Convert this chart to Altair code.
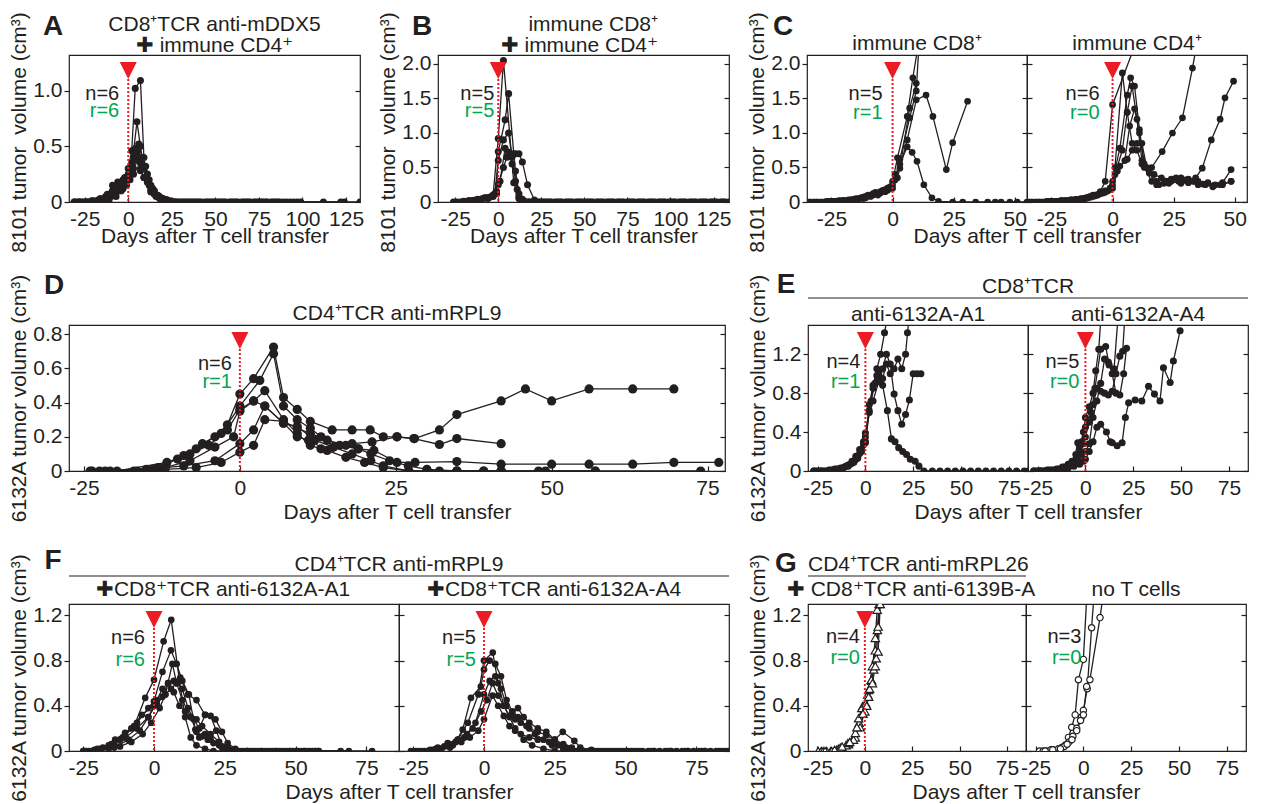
import altair as alt
import pandas as pd

FONT = "Liberation Sans"
INK = "#231f20"
RED = "#ed1c24"
GREEN = "#00a651"

# ---------------- Panel A : 8101, CD8+TCR anti-mDDX5 + immune CD4+ ----------------
A_m1 = [(-31,0),(-28,0),(-24,0),(-20,0.01),(-16,0.03),(-12,0.06),(-8,0.1),(-5,0.15),(-2,0.22),(0,0.3),(2,0.46),(4,1.02),(7,1.09),(9,0.4),(11,0.18),(13,0.09),(16,0.05),(19,0.02),(23,0),(27,0),(33,0),(40,0),(47,0),(53,0),(60,0),(67,0),(74,0),(80,0),(87,0),(93,0),(112,0),(124,0),(133,0)]
A_m2 = [(-30,0),(-26,0),(-21,0.01),(-17,0.02),(-13,0.05),(-9,0.1),(-5,0.17),(-2,0.2),(1,0.28),(3,0.45),(5,0.72),(7,0.5),(9,0.3),(11,0.2),(13,0.12),(15,0.07),(18,0.03),(21,0.01),(25,0),(30,0),(36,0),(42,0),(49,0),(56,0),(63,0),(70,0),(77,0),(84,0),(97,0)]
A_m3 = [(-29,0),(-25,0),(-19,0),(-15,0.02),(-11,0.04),(-7,0.08),(-3,0.12),(0,0.2),(2,0.35),(4,0.48),(6,0.52),(8,0.4),(10,0.32),(12,0.2),(14,0.12),(17,0.06),(20,0.03),(24,0.01),(28,0),(34,0),(38,0),(45,0),(51,0),(58,0),(65,0),(72,0),(79,0),(86,0),(99,0)]
A_m4 = [(-27,0),(-22,0),(-18,0.01),(-14,0.02),(-10,0.05),(-6,0.1),(-3,0.16),(0,0.25),(3,0.4),(5,0.45),(7,0.35),(9,0.3),(11,0.25),(13,0.15),(15,0.1),(18,0.05),(22,0.02),(26,0),(31,0),(37,0),(44,0),(50,0),(55,0),(62,0),(68,0),(75,0),(82,0),(89,0)]
A_m5 = [(-31,0),(-23,0),(-16,0.02),(-12,0.07),(-9,0.15),(-6,0.18),(-3,0.2),(0,0.22),(3,0.25),(5,0.38),(7,0.28),(9,0.22),(11,0.18),(13,0.1),(16,0.06),(19,0.03),(23,0.01),(27,0),(32,0),(39,0),(46,0),(52,0),(59,0),(66,0),(73,0),(78,0),(85,0),(95,0)]
A_m6 = [(-28,0),(-24,0),(-20,0),(-15,0.01),(-11,0.02),(-7,0.05),(-4,0.1),(-1,0.15),(1,0.2),(3,0.3),(5,0.42),(7,0.3),(9,0.22),(12,0.15),(15,0.08),(18,0.04),(22,0.02),(26,0),(29,0),(35,0),(41,0),(48,0),(54,0),(61,0),(69,0),(76,0),(83,0),(91,0),(122,0)]

# ---------------- Panel B : 8101, immune CD8+ + immune CD4+ ----------------
B_m1 = [(-26,0),(-20,0.01),(-15,0.02),(-10,0.04),(-6,0.06),(-3,0.1),(0,0.92),(3,2.05),(9,0.28),(12,0.05),(15,0.01),(18,0),(22,0),(27,0),(33,0),(39,0),(45,0),(51,0),(57,0),(63,0),(69,0),(75,0),(81,0),(87,0),(93,0),(99,0),(105,0),(111,0),(117,0),(123,0),(129,0),(134,0)]
B_m2 = [(-22,0),(-17,0.02),(-12,0.04),(-8,0.06),(-4,0.08),(-1,0.15),(0,0.73),(4,1.19),(6,1.57),(9,0.7),(11,0.18),(13,0.04),(16,0),(20,0),(25,0),(30,0),(36,0),(42,0),(48,0),(54,0),(60,0),(66,0),(72,0),(78,0),(84,0),(90,0),(96,0),(102,0),(108,0),(114,0),(120,0),(126,0),(132,0)]
B_m3 = [(-19,0),(-14,0.02),(-9,0.05),(-5,0.07),(-2,0.12),(0,0.6),(3,0.9),(6,1.0),(8,0.65),(10,0.3),(12,0.08),(14,0.02),(17,0),(21,0),(26,0),(31,0),(37,0),(43,0),(49,0),(55,0),(61,0),(67,0),(73,0),(79,0),(85,0),(91,0),(97,0),(103,0),(109,0),(115,0),(121,0),(127,0)]
B_m4 = [(-24,0),(-18,0.01),(-13,0.03),(-7,0.06),(-3,0.08),(0,0.25),(3,0.5),(5,0.65),(8,0.68),(10,0.7),(12,0.7),(14,0.58),(17,0.25),(21,0.03),(24,0),(28,0),(34,0),(40,0),(46,0),(52,0),(58,0),(64,0),(70,0),(76,0),(82,0),(88,0),(94,0),(100,0),(106,0),(112,0),(118,0),(124,0),(130,0)]
B_m5 = [(-21,0),(-16,0.01),(-11,0.03),(-6,0.05),(-1,0.12),(1,0.3),(4,0.78),(6,0.72),(8,0.55),(10,0.45),(12,0.12),(14,0.04),(18,0),(23,0),(29,0),(35,0),(41,0),(47,0),(53,0),(59,0),(65,0),(71,0),(77,0),(83,0),(89,0),(95,0),(101,0),(107,0),(113,0),(119,0),(125,0),(131,0)]

# ---------------- Panel C : 8101, immune CD8+ / immune CD4+ ----------------
C1_m1 = [(-35,0),(-32,0),(-29,0),(-26,0.01),(-23,0.01),(-20,0.02),(-17,0.03),(-14,0.05),(-11,0.08),(-8,0.12),(-5,0.15),(-2,0.2),(0,0.3),(2,0.64),(6,1.24),(8.3,1.8),(12,2.6)]
C1_m2 = [(-34,0),(-31,0),(-28,0),(-25,0.01),(-22,0.02),(-19,0.02),(-16,0.04),(-13,0.06),(-10,0.1),(-7,0.14),(-4,0.17),(-1,0.22),(1,0.4),(3,0.49),(7,1.36),(9.7,1.72)]
C1_m3 = [(-33,0),(-30,0),(-27,0),(-24,0.01),(-21,0.01),(-18,0.03),(-15,0.05),(-12,0.07),(-9,0.09),(-6,0.12),(-3,0.18),(0,0.25),(2,0.35),(6,0.9),(9.7,1.48),(13.7,1.55),(16.5,1.24),(22,0.47),(24.6,0.86),(30.7,1.46)]
C1_m4 = [(-35,0),(-32,0),(-29,0),(-26,0),(-23,0.01),(-20,0.02),(-17,0.03),(-14,0.04),(-11,0.06),(-8,0.1),(-5,0.13),(-2,0.17),(0,0.2),(3,0.55),(6,0.8),(8,0.72),(10,0.59),(12.8,0.25),(16.1,0.06),(18.8,0.01),(24.6,0),(28.7,0),(34,0),(38.9,0),(42,0),(44.4,0),(48,0),(51,0),(55,0)]
C1_m5 = [(-34,0),(-31,0),(-27,0.01),(-24,0.01),(-21,0.02),(-18,0.02),(-15,0.04),(-12,0.05),(-9,0.08),(-6,0.1),(-3,0.15),(-1,0.2),(1,0.32),(3,0.62),(7,1.22),(9.7,1.61),(11,2.4)]
C2_m1 = [(-35,0),(-32,0),(-29,0),(-26,0.01),(-23,0.01),(-20,0.02),(-17,0.03),(-14,0.04),(-11,0.06),(-8,0.1),(-5,0.15),(-3,0.3),(0,1.41),(10,2.35)]
C2_m2 = [(-34,0),(-31,0),(-28,0),(-25,0.01),(-22,0.01),(-19,0.02),(-16,0.03),(-13,0.05),(-10,0.07),(-7,0.1),(-4,0.14),(-1,0.2),(1,0.5),(4,1.87),(6,1.3),(8,0.85),(10,0.75),(12,0.55),(15,0.45),(18,0.3),(21,0.27),(24,0.3),(28,0.27),(31,0.28),(35,0.25),(38,0.25),(41.5,0.24),(45,0.25),(48.5,0.3)]
C2_m3 = [(-33,0),(-30,0),(-27,0),(-24,0.01),(-21,0.02),(-18,0.02),(-15,0.04),(-12,0.05),(-9,0.08),(-6,0.11),(-3,0.16),(0,0.3),(3,0.78),(6,1.55),(7.4,1.8),(9,1.68),(11,1.05),(13,0.55),(16,0.5),(20.3,0.73),(24.5,1.0),(28.6,1.22),(32.7,1.94),(36,2.6)]
C2_m4 = [(-35,0),(-31,0),(-27,0.01),(-23,0.01),(-19,0.02),(-15,0.03),(-12,0.05),(-9,0.07),(-6,0.1),(-3,0.14),(0,0.25),(3,0.52),(6,0.62),(8,0.75),(10,0.85),(12,0.85),(14,0.5),(17,0.4),(20,0.35),(24,0.33),(28,0.35),(31,0.33),(34,0.35),(36.7,0.49),(40.4,0.9),(44,1.2),(46,1.51),(49.5,1.75)]
C2_m5 = [(-34,0),(-30,0),(-26,0.01),(-22,0.01),(-18,0.02),(-14,0.03),(-11,0.05),(-8,0.08),(-5,0.12),(-2,0.16),(0,0.2),(2,0.45),(5,0.6),(7,1.1),(9,1.35),(11,1.0),(13,0.5),(16,0.3),(19,0.25),(23,0.27),(27,0.3),(31,0.3),(35,0.3),(39,0.28),(42,0.25),(45,0.28),(48.5,0.47)]
C2_m6 = [(-33,0),(-29,0),(-25,0.01),(-21,0.02),(-17,0.03),(-13,0.04),(-10,0.06),(-7,0.09),(-4,0.13),(-1,0.18),(1,0.4),(4,0.75),(6,1.3),(8,1.68),(10,1.2),(12,0.6),(15,0.42),(18,0.25),(22,0.3),(26,0.35),(30,0.32),(33,0.3),(37,0.26),(41,0.22),(44,0.25),(48.5,0.3)]

# ---------------- Panel D : 6132A, CD4+TCR anti-mRPL9 ----------------
D_m1 = [(-23.7,0),(-16.5,0),(-12,0.02),(-8,0.06),(-4,0.14),(-1,0.2),(0,0.35),(2.2,0.41),(4,0.47),(7,0.3),(9.2,0.22),(11.3,0.15),(13,0.13),(15,0.14),(18,0.16),(21.2,0.17),(25.2,0.2),(28,0.19),(32,0.24),(34.8,0.33),(41.9,0.41),(45.8,0.48),(50,0.41),(56,0.48),(63,0.48),(69.6,0.48)]
D_m2 = [(-21.6,0),(-13.9,0.01),(-10,0.07),(-7,0.13),(-4,0.2),(-2,0.27),(0,0.45),(2.2,0.54),(5.4,0.725),(7,0.43),(9.2,0.36),(11.3,0.29),(14.8,0.24),(18,0.24),(20.9,0.24),(23,0.2),(25.2,0.2),(27.9,0.19),(32,0.155),(34.8,0.19),(41.9,0.16)]
D_m3 = [(-20.8,0),(-13.1,0.02),(-9,0.09),(-6,0.16),(-3,0.22),(0,0.38),(3.2,0.53),(5.4,0.686),(7,0.38),(9.2,0.3),(11.3,0.25),(13,0.2),(16,0.15),(19,0.13),(21.5,0.12),(25.2,0.05),(28.1,0.05),(34.8,0.055),(41.9,0.04),(50,0.04),(56,0.04),(63,0.04),(69.6,0.05),(76.8,0.05)]
D_m4 = [(-19.7,0),(-11.7,0.05),(-8,0.1),(-5,0.15),(-2,0.24),(0,0.36),(2.2,0.41),(4,0.38),(7,0.28),(9.2,0.26),(12,0.18),(15,0.14),(18,0.1),(21,0.06),(23,0.03),(27.1,0),(32,0),(34.8,0),(39.1,0),(41.9,0),(47.9,0),(57,0)]
D_m5 = [(-24,0),(-15,0.01),(-9,0.03),(-4,0.06),(0,0.16),(2.2,0.24),(4,0.38),(7,0.28),(9.2,0.2),(11,0.18),(14,0.12),(17,0.08),(20,0.05),(23,0.02),(27.1,0),(34.8,0),(41.9,0),(49,0),(57,0),(73.9,0)]
D_m6 = [(-22.5,0),(-17,0),(-12,0.01),(-7,0.02),(-3,0.05),(0,0.11),(2.2,0.15),(4,0.3),(7,0.29),(9.2,0.25),(11.3,0.22),(14,0.18),(17,0.15),(19,0.13),(21,0.1),(24,0.06),(27,0.03),(30,0.01),(34.8,0),(39.1,0),(41.9,0)]

# ---------------- Panel E : 6132A, CD8+TCR anti-6132A-A1 / -A4 ----------------
E1_m1 = [(-27,0),(-24,0),(-21,0),(-18,0.01),(-15,0.02),(-12,0.03),(-9,0.06),(-7,0.1),(-5,0.15),(-3,0.22),(-1,0.3),(0,0.39),(2,0.62),(4,0.85),(6,0.98),(8,0.95),(9,0.88),(11.5,0.62),(13.6,0.33),(15.5,0.3),(17.4,0.24),(19.5,0.2),(21.5,0.17),(23.5,0.12),(26,0.1),(28,0.05),(30.6,0),(35,0),(39,0),(43,0),(47,0),(51,0),(55,0),(59,0),(63,0),(67,0),(71,0),(75,0),(79,0),(83,0),(85,0)]
E1_m2 = [(-26,0),(-23,0),(-20,0),(-17,0.01),(-14,0.02),(-11,0.04),(-8,0.07),(-6,0.1),(-4,0.15),(-2,0.22),(0,0.3),(2,0.68),(4,0.88),(6,1.05),(8,1.2),(10,1.42),(12.5,1.7)]
E1_m3 = [(-25,0),(-22,0),(-19,0.01),(-16,0.02),(-13,0.03),(-10,0.05),(-7,0.08),(-5,0.12),(-3,0.18),(-1,0.27),(0,0.35),(3,0.72),(5,0.9),(7,1.0),(9,0.95),(11,1.1),(13,1.0),(15,1.05),(17,1.15),(19,1.05),(21,1.2),(22,1.42),(23.5,1.7)]
E1_m4 = [(-27,0),(-23,0),(-19,0),(-15,0.01),(-12,0.02),(-9,0.05),(-6,0.09),(-4,0.13),(-2,0.2),(0,0.29),(2,0.6),(4,0.72),(7,0.92),(9,1.05),(11,1.2),(13,1.1),(15,0.79),(17,0.62),(19,0.48),(21,0.58),(23,0.73),(25,1.0),(27,1.0),(29,1.0)]
E2_m1 = [(-27,0),(-24,0),(-21,0),(-18,0.01),(-15,0.02),(-12,0.04),(-9,0.07),(-7,0.1),(-5,0.17),(-3,0.25),(-1,0.4),(0,0.55),(2,0.66),(4,0.8),(5.4,1.03),(7,1.25),(8.5,1.7)]
E2_m2 = [(-26,0),(-23,0),(-20,0.01),(-17,0.01),(-14,0.02),(-11,0.04),(-8,0.07),(-6,0.1),(-4,0.29),(-2,0.3),(0,0.45),(3,0.6),(5,0.85),(8,1.25),(10.6,1.28),(12.4,1.09),(15,1.05),(17.5,1.7)]
E2_m3 = [(-25,0),(-22,0),(-19,0),(-16,0.01),(-13,0.02),(-10,0.04),(-7,0.06),(-5,0.12),(-3,0.2),(-1,0.28),(0,0.35),(2,0.5),(4,0.68),(6,0.85),(8,0.82),(10,0.8),(12,0.78),(14,0.82),(16,1.0),(18,1.18),(19.5,1.23),(21,1.7)]
E2_m4 = [(-27,0),(-23,0),(-19,0.01),(-15,0.01),(-12,0.02),(-9,0.04),(-6,0.08),(-4,0.12),(-2,0.17),(0,0.2),(2,0.28),(4,0.55),(6,0.72),(8,0.9),(10,1.15),(12,1.12),(14,1.0),(16,0.8),(18,0.78),(20,1.0),(21.5,1.26)]
E2_m5 = [(-24,0),(-21,0),(-18,0),(-15,0.01),(-12,0.02),(-9,0.03),(-6,0.05),(-3,0.07),(-1,0.1),(0,0.12),(2,0.2),(4,0.3),(6,0.45),(8,0.48),(11,0.4),(13,0.3),(14,0.29),(16.6,0.26),(19.2,0.29),(20.9,0.55),(22.6,0.7),(26,0.73),(29.5,0.72),(33,0.87),(36.1,0.79),(39,0.72),(40.8,1.06),(44.3,0.91),(46,1.13),(49.5,1.44)]

# ---------------- Panel F : 6132A, CD4+TCR anti-mRPL9 + CD8+TCR ----------------
F1_m1 = [(-24.6,0),(-20,0.02),(-15,0.06),(-11,0.12),(-7,0.22),(-3.1,0.47),(0,0.63),(3.4,0.97),(6.1,1.16),(9,0.62),(11,0.3),(13,0.12),(15,0.05),(18,0.02),(21,0),(25,0),(29,0),(33,0),(38,0),(43,0),(48,0),(53,0),(58,0),(65.9,0)]
F1_m2 = [(-22,0),(-18,0.03),(-13.7,0.1),(-10.2,0.16),(-6,0.25),(-2,0.38),(0,0.44),(3,0.7),(6,0.89),(8,0.77),(10,0.62),(12.3,0.5),(14.6,0.19),(16,0.12),(18,0.15),(20,0.1),(23,0.05),(26,0.02),(29,0),(33,0),(37,0),(42,0),(47,0),(52,0),(57,0),(68.8,0)]
F1_m3 = [(-25,0),(-21,0.01),(-16,0.05),(-12,0.1),(-8,0.2),(-4.3,0.32),(0,0.4),(3,0.48),(5,0.6),(7,0.62),(9.3,0.65),(12,0.5),(15,0.45),(18,0.32),(21.7,0.28),(24,0.17),(26,0.07),(28.7,0.02),(31,0),(35,0),(40,0),(45,0),(50,0),(55,0),(58.2,0)]
F1_m4 = [(-23,0),(-19,0.02),(-14,0.07),(-10,0.12),(-6,0.2),(-2,0.3),(1,0.42),(4,0.5),(6,0.55),(8,0.6),(10,0.55),(12,0.38),(14,0.28),(16,0.2),(18.1,0.32),(20,0.31),(22,0.18),(24,0.04),(27,0.01),(30,0),(34,0),(39,0),(44,0),(49,0),(54,0),(77,0)]
F1_m5 = [(-20,0),(-16,0.02),(-12,0.04),(-8,0.08),(-4,0.15),(-1,0.25),(2,0.38),(4,0.5),(6.5,0.77),(8,0.6),(10,0.45),(13,0.3),(15,0.17),(17,0.13),(19,0.1),(21,0.07),(24,0.03),(28,0),(32,0),(36,0),(41,0),(46,0),(51,0),(56,0)]
F1_m6 = [(-24,0),(-19,0.01),(-14,0.03),(-9,0.1),(-5,0.18),(-2,0.3),(1,0.45),(3,0.55),(5,0.6),(7,0.52),(9,0.4),(11,0.35),(13,0.3),(15,0.28),(17,0.22),(20,0.15),(23,0.08),(26,0.03),(29,0),(33,0),(38,0),(43,0),(48,0),(53,0),(57,0)]
F2_m1 = [(-25.8,0),(-21,0),(-16.3,0.03),(-12.8,0.07),(-9.3,0.1),(-5.7,0.25),(-2,0.5),(0,0.8),(3.1,0.87),(5,0.6),(7,0.4),(9,0.3),(11,0.2),(14,0.1),(17,0.05),(21,0.02),(25,0),(30,0),(35,0),(40,0),(45,0),(50,0),(55,0),(60,0),(66,0),(72,0),(78,0),(84,0)]
F2_m2 = [(-24,0),(-19,0.01),(-14,0.04),(-10,0.08),(-7.5,0.19),(-4.6,0.47),(-1.1,0.57),(0,0.72),(2,0.8),(4,0.77),(6,0.66),(8,0.45),(10,0.35),(12,0.3),(15,0.22),(18,0.15),(21,0.1),(24,0.05),(28,0.02),(32,0),(37,0),(42,0),(47,0),(52,0),(58,0),(64,0),(70,0),(76,0),(82,0),(86,0)]
F2_m3 = [(-22,0),(-17,0.02),(-13,0.05),(-9,0.1),(-6,0.15),(-3,0.25),(0,0.5),(2,0.62),(4,0.66),(6,0.55),(8,0.4),(10,0.33),(12,0.38),(14,0.3),(16,0.25),(19,0.2),(22,0.17),(25,0.1),(27.8,0.17),(31.9,0.09),(34,0.03),(37.9,0.01),(41,0),(46,0),(51,0),(56,0),(62,0),(68,0),(74,0),(80,0)]
F2_m4 = [(-20,0),(-15,0.02),(-11,0.05),(-7,0.12),(-4,0.2),(-1,0.35),(1,0.45),(3,0.6),(5,0.49),(7,0.4),(9,0.31),(11,0.28),(13,0.25),(16,0.2),(19,0.17),(22,0.14),(25,0.1),(28,0.06),(31,0.03),(35,0),(39,0),(44,0),(49,0),(54,0),(60,0),(66,0),(72,0),(78,0),(85,0)]
F2_m5 = [(-23,0),(-18,0.01),(-12,0.03),(-8,0.08),(-5,0.12),(-2,0.18),(0,0.28),(3,0.49),(5,0.4),(7,0.31),(9,0.22),(11,0.18),(13,0.15),(16,0.12),(19,0.1),(23,0.08),(26,0.05),(29,0.03),(33,0),(38,0),(43,0),(48,0),(53,0),(59,0),(65,0),(71,0),(77,0),(83,0)]

# ---------------- Panel G : 6132A, CD4+TCR anti-mRPL26 + CD8+TCR anti-6139B-A / no T cells ----------------
G1_m1 = [(-24.6,0),(-20.1,0),(-15,0.01),(-12,0.02),(-8.6,0.06),(-5,0.12),(-3,0.25),(-1,0.4),(1.5,0.5),(3.5,0.62),(5.5,1.0),(6.5,1.25),(8,1.6)]
G1_m2 = [(-23,0),(-18,0),(-14,0.02),(-10,0.05),(-6,0.1),(-3.3,0.29),(-1.6,0.38),(0.5,0.42),(2,0.54),(4,0.75),(5.5,0.89),(6.6,1.07),(7.5,1.3),(8.5,1.6)]
G1_m3 = [(-22,0),(-17.5,0),(-13,0.03),(-9,0.07),(-5,0.16),(-2.5,0.21),(0,0.35),(2,0.48),(3.4,0.63),(4.7,0.72),(6,0.82),(7,1.1),(8,1.35)]
G1_m4 = [(-21,0),(-16,0.01),(-12,0.04),(-8,0.08),(-4.2,0.21),(-1,0.33),(1,0.4),(2.5,0.55),(4,0.6),(5.5,0.75),(7,0.88),(8.1,1.3),(9,1.6)]
G2_m1 = [(-22.9,0),(-19.4,0),(-15.8,0.01),(-11.4,0.03),(-9.6,0.05),(-7.8,0.12),(-6.1,0.21),(-4.3,0.32),(-2.6,0.63),(0,0.81),(2.5,1.6)]
G2_m2 = [(-21,0),(-17,0.01),(-13,0.02),(-10,0.04),(-7.5,0.08),(-5.5,0.13),(-3.5,0.2),(-1,0.3),(0,0.36),(2,0.55),(4.3,1.09),(6.5,1.6)]
G2_m3 = [(-20,0),(-16,0.01),(-12,0.02),(-8.5,0.06),(-6,0.1),(-3.5,0.18),(-1.5,0.27),(0,0.32),(1.7,0.57),(3.4,0.63),(8.7,1.18),(11.3,1.5)]

TICKS_AB = [-25, 0, 25, 50, 75, 100, 125]
TICKS_C = [-25, 0, 25, 50]
TICKS_75 = [-25, 0, 25, 50, 75]
XTITLE = "Days after T cell transfer"
Y8101 = "8101 tumor\u00a0 volume (cm³)"
Y6132 = "6132A tumor volume (cm³)"

XLAB = "datum.value < 0 ? '-' + format(-datum.value, 'd') : format(datum.value, 'd')"
YLAB = "datum.value == 0 ? '0' : format(datum.value, '.1f')"
TRI = "M-1,-1L1,-1L0,1Z"
ONE = alt.Data(values=[{}])
FRAME = alt.ViewBackground(stroke=INK, strokeWidth=1.2, strokeOpacity=1)
NOFRAME = alt.ViewBackground(strokeOpacity=0, fillOpacity=0)


def to_df(series):
    rows = []
    for k, s in enumerate(series):
        for i, (d, v) in enumerate(s):
            rows.append({"mouse": k, "idx": i, "day": d, "vol": v})
    return pd.DataFrame(rows)


def ann_text(txt, x, y, align="center", size=21, weight="normal", color=INK):
    return alt.Chart(ONE).mark_text(
        align=align, baseline="middle", font=FONT, fontSize=size, fontWeight=weight, color=color
    ).encode(x=alt.value(x), y=alt.value(y), text=alt.value(txt))


def ann_rule(x2, y):
    return alt.Chart(ONE).mark_rule(color=INK, strokeWidth=1.2).encode(
        x=alt.value(0), x2=alt.value(x2), y=alt.value(y))


def guard(y):
    return alt.Chart(ONE).mark_point(opacity=0, size=1).encode(x=alt.value(2), y=alt.value(y))


def spacer(w, h):
    return alt.Chart(ONE).mark_point(opacity=0, size=1).encode(
        x=alt.value(1), y=alt.value(1)).properties(width=w, height=h, view=NOFRAME)


def panel(series, w, h, xdom, ydom, xticks, yticks, *, shape="circle", open_marker=False,
          size=45, ylabels=True, ytitle=None, ytitle_dy=0, xtitle=None, xtitle_x=None,
          xtitle_pad=3, texts=(), tri=True, nr=None, letter=None, extras=(), guards=()):
    df = to_df(series)
    xs = alt.Scale(domain=xdom, nice=False, zero=False)
    ys = alt.Scale(domain=ydom, nice=False, zero=False)

    xkw = dict(values=xticks, orient="bottom", offset=-5, domain=False, grid=False,
               tickSize=5, tickColor=INK, tickWidth=1.2, labelPadding=6,
               labelFont=FONT, labelFontSize=21, labelColor=INK, labelExpr=XLAB,
               labelFlush=False, labelOverlap=False, labelBound=False)
    if xtitle:
        xkw.update(title=xtitle, titleFont=FONT, titleFontSize=21, titleFontWeight="normal",
                   titleColor=INK, titlePadding=xtitle_pad)
        if xtitle_x is not None:
            xkw.update(titleX=xtitle_x)
    else:
        xkw.update(title=None)
    xaxis = alt.Axis(**xkw)

    if ylabels:
        ykw = dict(values=yticks, orient="left", domain=False, grid=False, tickSize=5,
                   tickColor=INK, tickWidth=1.2, labelPadding=2, labelFont=FONT,
                   labelFontSize=21, labelColor=INK, labelExpr=YLAB, labelFlush=False,
                   labelOverlap=False)
    else:
        ykw = dict(values=yticks, orient="left", offset=-5, domain=False, grid=False,
                   tickSize=5, tickColor=INK, tickWidth=1.2, labels=False)
    if ytitle:
        ykw.update(title=ytitle, titleFont=FONT, titleFontSize=21, titleFontWeight="normal",
                   titleColor=INK, titlePadding=3)
        if ytitle_dy:
            ykw.update(titleY=h / 2 + ytitle_dy)
    else:
        ykw.update(title=None)
    yleft = alt.Axis(**ykw)
    yright = alt.Axis(values=yticks, orient="right", offset=-5, domain=False, grid=False,
                      tickSize=5, tickColor=INK, tickWidth=1.2, labels=False, title=None)

    base = alt.Chart(df)
    lines = base.mark_line(color=INK, strokeWidth=1.3, clip=True).encode(
        x=alt.X("day:Q", scale=xs, axis=xaxis),
        y=alt.Y("vol:Q", scale=ys, axis=yleft),
        detail="mouse:N", order="idx:Q")
    if open_marker:
        pm = base.mark_point(shape=shape, filled=True, fill="white", stroke=INK,
                             strokeWidth=1.2, size=size, opacity=1, clip=True)
    else:
        pm = base.mark_point(shape=shape, filled=True, color=INK, size=size,
                             opacity=1, clip=True)
    pts = pm.encode(x=alt.X("day:Q", scale=xs, axis=xaxis),
                    y=alt.Y("vol:Q", scale=ys, axis=yright))
    layers = [lines, pts]
    ann = alt.Chart(ONE)
    if tri:
        layers.append(ann.mark_rule(color=RED, strokeWidth=2, strokeDash=[2, 2]).encode(
            x=alt.datum(0), y=alt.value(24), y2=alt.value(h)))
        layers.append(ann.mark_point(shape=TRI, filled=True, color=RED, size=289,
                                     opacity=1).encode(x=alt.datum(0), y=alt.value(15.5)))
    if nr:
        ntxt, rtxt, dx, yn, yr = nr
        layers.append(ann.mark_text(align="right", baseline="middle", dx=dx, font=FONT,
                                    fontSize=20, color=INK).encode(
            x=alt.datum(0), y=alt.value(yn), text=alt.value(ntxt)))
        layers.append(ann.mark_text(align="right", baseline="middle", dx=dx, font=FONT,
                                    fontSize=20, color=GREEN).encode(
            x=alt.datum(0), y=alt.value(yr), text=alt.value(rtxt)))
    if letter:
        L, lx, ly = letter
        layers.append(ann_text(L, lx, ly, size=28, weight="bold"))
    for t in texts:
        txt, tx, ty = t[0], t[1], t[2]
        al = t[3] if len(t) > 3 else "center"
        layers.append(ann_text(txt, tx, ty, align=al))
    layers.extend(extras)
    for g in guards:
        layers.append(guard(g))
    return alt.layer(*layers).resolve_axis(y="independent").properties(
        width=w, height=h, view=FRAME)


H1, H2, H3 = 147, 146, 147
GB = 58    # bottom guard below each plot
GT = -62   # top guard above plots of rows 2 and 3

pA = panel([A_m1, A_m2, A_m3, A_m4, A_m5, A_m6], 291, H1, [-34, 133], [0, 1.32], TICKS_AB,
           [0, 0.5, 1.0], size=50, ytitle=Y8101, ytitle_dy=3.5, xtitle=XTITLE, xtitle_pad=-4,
           texts=[("CD8⁺TCR anti-mDDX5", 145.5, -30), ("✚ immune CD4⁺", 145.5, -9)],
           nr=("n=6", "r=6", -9, 39, 56), letter=("A", -16, -28), guards=[-45, H1 + GB])
pB = panel([B_m1, B_m2, B_m3, B_m4, B_m5], 291, H1, [-35, 134], [0, 2.13], TICKS_AB,
           [0, 0.5, 1.0, 1.5, 2.0], size=50, ytitle=Y8101, ytitle_dy=3.5, xtitle=XTITLE,
           xtitle_pad=-4,
           texts=[("immune CD8⁺", 220, -30, "right"), ("✚ immune CD4⁺", 220, -9, "right")],
           nr=("n=5", "r=5", -4, 39, 56), letter=("B", -16, -28))
pC1 = panel([C1_m1, C1_m2, C1_m3, C1_m4, C1_m5], 220, H1, [-35, 55], [0, 2.13], TICKS_C,
            [0, 0.5, 1.0, 1.5, 2.0], size=45, ytitle=Y8101, ytitle_dy=3.5, xtitle=XTITLE,
            xtitle_x=220, xtitle_pad=-4, texts=[("immune CD8⁺", 110, -11)],
            nr=("n=5", "r=1", -10, 39, 58), letter=("C", -24, -28))
pC2 = panel([C2_m1, C2_m2, C2_m3, C2_m4, C2_m5, C2_m6], 220, H1, [-35, 55], [0, 2.13], TICKS_C,
            [0, 0.5, 1.0, 1.5, 2.0], size=45, ylabels=False,
            texts=[("immune CD4⁺", 110, -11)], nr=("n=6", "r=0", -13, 39, 58))

pD = panel([D_m1, D_m2, D_m3, D_m4, D_m5, D_m6], 656, H2, [-27.4, 77.8], [0, 0.854], TICKS_75,
           [0, 0.2, 0.4, 0.6, 0.8], size=85, ytitle=Y6132, xtitle=XTITLE,
           texts=[("CD4⁺TCR anti-mRPL9", 328, -11)],
           nr=("n=6", "r=1", -8, 39, 57), letter=("D", -15, -39), guards=[GT, H2 + GB])
pE1 = panel([E1_m1, E1_m2, E1_m3, E1_m4], 220, H2, [-30, 85], [0, 1.5], TICKS_75,
            [0, 0.4, 0.8, 1.2], size=50, ytitle=Y6132, xtitle=XTITLE, xtitle_x=220,
            texts=[("anti-6132A-A1", 110, -10), ("CD8⁺TCR", 220, -38)],
            nr=("n=4", "r=1", -5, 37, 57), letter=("E", -22, -40),
            extras=[ann_rule(440, -27)])
pE2 = panel([E2_m1, E2_m2, E2_m3, E2_m4, E2_m5], 220, H2, [-30, 85], [0, 1.5], TICKS_75,
            [0, 0.4, 0.8, 1.2], size=50, ylabels=False,
            texts=[("anti-6132A-A4", 110, -10)], nr=("n=5", "r=0", -6, 37, 57))

pF1 = panel([F1_m1, F1_m2, F1_m3, F1_m4, F1_m5, F1_m6], 330, H3, [-30, 86.5], [0, 1.3], TICKS_75,
            [0, 0.4, 0.8, 1.2], size=45, ytitle=Y6132, xtitle=XTITLE, xtitle_x=330,
            texts=[("✚CD8⁺TCR anti-6132A-A1", 154, -14), ("CD4⁺TCR anti-mRPL9", 330, -39)],
            nr=("n=6", "r=6", -9, 34, 56), letter=("F", -16, -43),
            extras=[ann_rule(660, -28)], guards=[GT])
pF2 = panel([F2_m1, F2_m2, F2_m3, F2_m4, F2_m5], 330, H3, [-30, 86.5], [0, 1.3], TICKS_75,
            [0, 0.4, 0.8, 1.2], size=45, ylabels=False,
            texts=[("✚CD8⁺TCR anti-6132A-A4", 155, -14)],
            nr=("n=5", "r=5", -8, 34, 56))
pG1 = panel([G1_m1, G1_m2, G1_m3, G1_m4], 218, H3, [-30, 85], [0, 1.3], TICKS_75,
            [0, 0.4, 0.8, 1.2], shape="triangle-up", open_marker=True, size=70,
            ytitle=Y6132, xtitle=XTITLE, xtitle_x=218,
            texts=[("✚ CD8⁺TCR anti-6139B-A", 103, -14), ("CD4⁺TCR anti-mRPL26", 0, -39, "left")],
            nr=("n=4", "r=0", -5, 33, 54), letter=("G", -22, -40),
            extras=[ann_rule(218, -28)])
pG2 = panel([G2_m1, G2_m2, G2_m3], 220, H3, [-30, 85], [0, 1.3], TICKS_75,
            [0, 0.4, 0.8, 1.2], shape="circle", open_marker=True, size=40, ylabels=False,
            texts=[("no T cells", 110, -14)], tri=False, nr=("n=3", "r=0", -2, 33, 54))

row1 = alt.hconcat(pA, spacer(78, H1), pB, spacer(78, H1), pC1, pC2, spacing=0, bounds="flush")
row2 = alt.hconcat(pD, spacer(83, H2), pE1, pE2, spacing=0, bounds="flush")
row3 = alt.hconcat(pF1, pF2, spacer(79, H3), pG1, pG2, spacing=0, bounds="flush")
# row pitch: plot tops 271 px apart (rows 1-2) and 277 px apart (rows 2-3);
# the last term corrects for the measured extent of the axis titles
top = alt.vconcat(row1, row2, spacing=271 - H1 - GB + GT - 5)
chart = alt.vconcat(top, row3, spacing=277 - H2 - GB + GT - 2,
                    padding={"left": 0, "top": 0, "right": 2, "bottom": 0})
chart = chart.configure_view(strokeOpacity=0).configure(background="white")

chart.save("out.html", embed_options={"renderer": "svg", "actions": False})
